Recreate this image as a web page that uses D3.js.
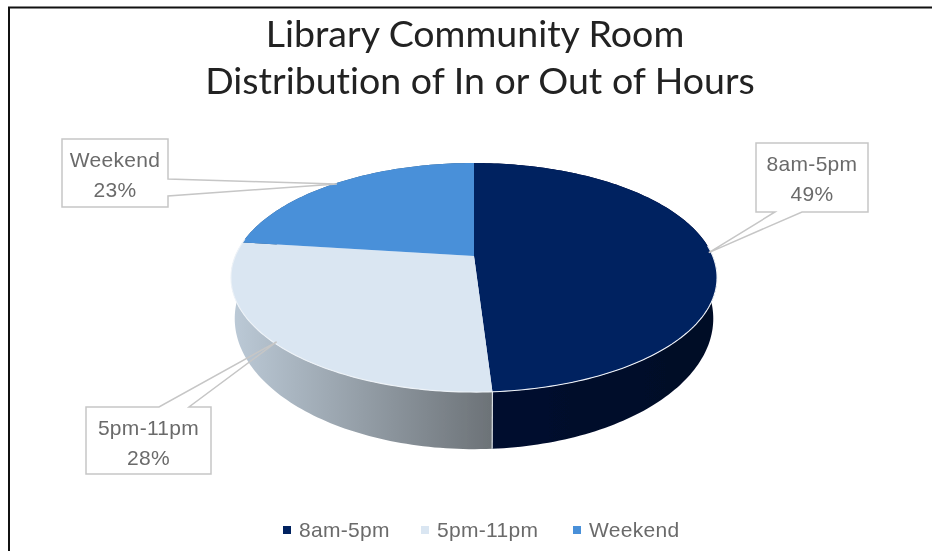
<!DOCTYPE html>
<html>
<head>
<meta charset="utf-8">
<script src="https://cdn.jsdelivr.net/npm/d3@7"></script>
<style>
  html, body { margin: 0; padding: 0; background: #fff; }
  svg { display: block; }
  .callout-text, .legend-text { font-family: "Liberation Sans", Arial, sans-serif; fill: #6b6b6b; letter-spacing: 0.3px; }
  .title { font-family: Lato, sans-serif; fill: #222; font-variant-ligatures: none; }
</style>
</head>
<body>
<svg id="chart" width="932" height="551"></svg>
<script>
const categories = ['8am-5pm', '5pm-11pm', 'Weekend'];
const shares = [49, 28, 23];
const topColors = ['#002060', '#dae6f2', '#4a90d9'];
const sideStops = [['#000a26', '#000d30'], ['#bccad7', '#6c7277'], ['#2a5680', '#2a5680']];
const titleLines = ['Library Community Room', 'Distribution of In or Out of Hours'];
const titleX = [475, 480];

// Callout boxes, each one points at the middle of its slice
const callouts = [
    { x: 756, y: 143, w: 112, h: 69, tail: [775, 802], side: 'bottom' },
    { x: 86, y: 407, w: 125, h: 67, tail: [159, 189], side: 'top' },
    { x: 62, y: 139, w: 106, h: 68, tail: [179, 196], side: 'right' }
];

const legendX = [283, 421, 573];

// Perspective disc: the slice apex is not the centre of the ellipse
const topPlate = { cx: 474, cy: 256, rx: 238.7, ry: 110.5, k: 0.188 };
const bottomPlate = { cx: 474, cy: 294, rx: 235, ry: 126, k: 0.188 };

function project(plate, angle, r = 1) {
    const u = Math.sin(angle) * r;
    const v = -Math.cos(angle) * r;
    const w = 1 - plate.k * v;
    return [plate.cx + plate.rx * u / w, plate.cy + plate.ry * v / w];
}

function arcPoints(plate, a0, a1) {
    const steps = Math.ceil((a1 - a0) / 0.02);
    return d3.range(steps + 1).map(i => project(plate, a0 + (a1 - a0) * i / steps));
}

const svg = d3.select('#chart');
const line = d3.line();

// Page frame of the screenshot
svg.append('path')
    .attr('d', 'M9,551V7.5H932')
    .attr('fill', 'none')
    .attr('stroke', '#111')
    .attr('stroke-width', 2);

const defs = svg.append('defs');
defs.append('filter').attr('id', 'soft')
    .attr('filterUnits', 'userSpaceOnUse')
    .attr('x', 0).attr('y', 0).attr('width', 932).attr('height', 551)
    .append('feGaussianBlur').attr('stdDeviation', 0.55);

const g = svg.append('g').attr('filter', 'url(#soft)');

// Title
g.selectAll('.title')
    .data(titleLines)
    .enter()
    .append('text')
    .attr('class', 'title')
    .attr('x', (d, i) => titleX[i])
    .attr('y', (d, i) => 47 + i * 47)
    .attr('text-anchor', 'middle')
    .attr('font-size', 37.5)
    .text(d => d);

const pie = d3.pie().sort(null).value(d => d);
const slices = pie(shares);

// Sides first, the top plate covers whatever should be hidden
slices.forEach((s, i) => {
    const topEdge = arcPoints(topPlate, s.startAngle, s.endAngle);
    const bottomEdge = arcPoints(bottomPlate, s.startAngle, s.endAngle);
    const xs = topEdge.concat(bottomEdge).map(p => p[0]);
    const grad = defs.append('linearGradient')
        .attr('id', `side${i}`)
        .attr('gradientUnits', 'userSpaceOnUse')
        .attr('x1', i === 1 ? d3.min(xs) : d3.max(xs))
        .attr('x2', i === 1 ? d3.max(xs) : d3.min(xs))
        .attr('y1', 0).attr('y2', 0);
    grad.append('stop').attr('offset', 0).attr('stop-color', sideStops[i][0]);
    grad.append('stop').attr('offset', 1).attr('stop-color', sideStops[i][1]);

    g.append('path')
        .attr('d', line(topEdge.concat(bottomEdge.reverse())) + 'Z')
        .attr('fill', `url(#side${i})`);
});

// Seam on the visible side wall
const seamAngle = slices[0].endAngle;
g.append('path')
    .attr('d', line([project(topPlate, seamAngle), project(bottomPlate, seamAngle)]))
    .attr('stroke', '#d8dde2')
    .attr('stroke-width', 1.2);

const apex = project(topPlate, 0, 0);
slices.forEach((s, i) => {
    g.append('path')
        .attr('d', line([apex].concat(arcPoints(topPlate, s.startAngle, s.endAngle))) + 'Z')
        .attr('fill', topColors[i]);
});

// Pale rim along the front edge of the disc
g.append('path')
    .attr('d', line(arcPoints(topPlate, Math.PI * 0.47, Math.PI * 1.55)))
    .attr('fill', 'none')
    .attr('stroke', '#eef3f8')
    .attr('stroke-width', 1.1);

// Callouts with tails
callouts.forEach((c, i) => {
    const s = slices[i];
    const tip = project(topPlate, (s.startAngle + s.endAngle) / 2, 0.99);
    const right = c.x + c.w;
    const bottom = c.y + c.h;
    let pts;
    if (c.side === 'bottom') {
        pts = [[c.x, c.y], [right, c.y], [right, bottom], [c.tail[1], bottom], tip, [c.tail[0], bottom], [c.x, bottom]];
    } else if (c.side === 'top') {
        pts = [[c.x, c.y], [c.tail[0], c.y], tip, [c.tail[1], c.y], [right, c.y], [right, bottom], [c.x, bottom]];
    } else {
        pts = [[c.x, c.y], [right, c.y], [right, c.tail[0]], tip, [right, c.tail[1]], [right, bottom], [c.x, bottom]];
    }
    g.append('path')
        .attr('d', line(pts) + 'Z')
        .attr('fill', 'none')
        .attr('stroke', '#c6c6c6')
        .attr('stroke-width', 1.5);

    [categories[i], `${shares[i]}%`].forEach((t, j) => {
        g.append('text')
            .attr('class', 'callout-text')
            .attr('x', c.x + c.w / 2)
            .attr('y', c.y + 28 + j * 30)
            .attr('text-anchor', 'middle')
            .attr('font-size', 21)
            .text(t);
    });
});

// Legend
categories.forEach((name, i) => {
    g.append('rect')
        .attr('x', legendX[i])
        .attr('y', 526)
        .attr('width', 8)
        .attr('height', 8)
        .attr('fill', topColors[i]);
    g.append('text')
        .attr('class', 'legend-text')
        .attr('x', legendX[i] + 16)
        .attr('y', 537)
        .attr('font-size', 21)
        .text(name);
});
</script>
</body>
</html>
